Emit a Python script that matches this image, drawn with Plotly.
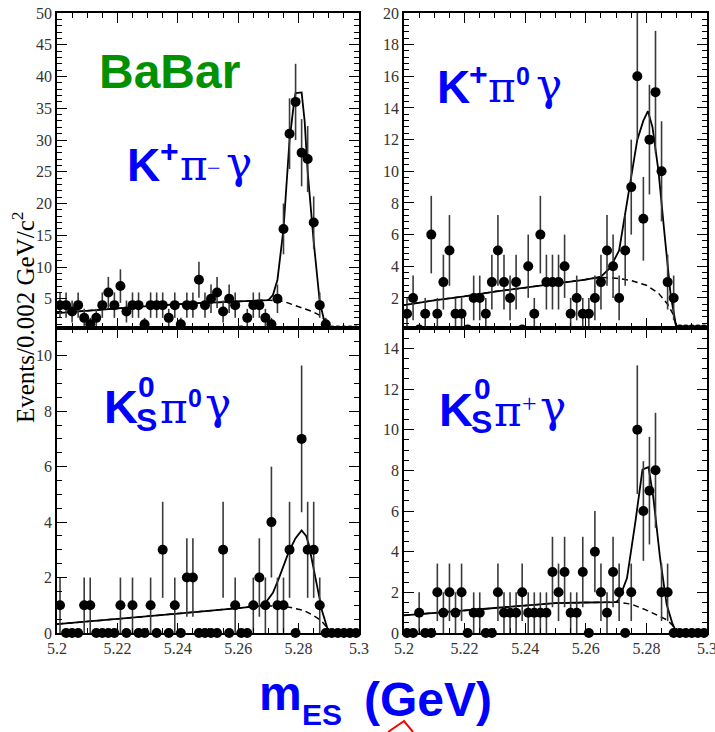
import numpy as np
import plotly.graph_objects as go

W, H = 715, 732

# ---------------- data ----------------
bin_lo, bin_w, n_bins = 5.200, 0.002, 50
mes_centers = [round(bin_lo + bin_w * (i + 0.5), 4) for i in range(n_bins)]

counts_kpim = [4, 4, 3, 4, 2, 1, 2, 4, 6, 4,
               7, 3, 4, 4, 1, 4, 4, 4, 2, 4,
               1, 4, 4, 8, 4, 5, 6, 3, 5, 4,
               0, 2, 4, 4, 2, 1, 5, 16, 31, 36,
               28, 27, 17, 4, 1, 0, 0, 0, 0, 0]
counts_kpi0 = [1, 2, 0, 1, 6, 1, 3, 5, 1, 1,
               0, 2, 2, 1, 3, 5, 3, 2, 3, 0,
               4, 1, 6, 3, 3, 3, 4, 1, 2, 1,
               1, 2, 3, 5, 4, 2, 5, 9, 16, 7,
               12, 15, 10, 3, 2, 0, 0, 0, 0, 0]
counts_kspi0 = [1, 0, 0, 0, 1, 1, 0, 0, 0, 0,
                1, 0, 1, 0, 0, 1, 0, 3, 0, 1,
                0, 2, 2, 0, 0, 0, 0, 3, 0, 1,
                0, 0, 1, 2, 1, 4, 1, 1, 3, 0,
                7, 3, 3, 1, 0, 0, 0, 0, 0, 0]
counts_kspip = [0, 0, 1, 0, 0, 2, 1, 2, 1, 2,
                0, 1, 1, 0, 0, 2, 1, 1, 1, 2,
                1, 1, 1, 1, 3, 2, 3, 1, 1, 3,
                0, 4, 2, 1, 3, 2, 0, 2, 10, 6,
                7, 8, 2, 2, 0, 0, 0, 0, 0, 0]

# fit curves (total) and background (dashed)
fit_kpim_x = [5.200, 5.210, 5.220, 5.230, 5.240, 5.250, 5.260, 5.270, 5.2715, 5.273, 5.275,
              5.277, 5.2785, 5.279, 5.281, 5.282, 5.283, 5.285, 5.287, 5.2885, 5.290]
fit_kpim_y = [2.75, 3.15, 3.5, 3.85, 4.15, 4.4, 4.65, 4.8, 5.6, 8.0, 16.0,
              30.0, 36.0, 37.4, 37.5, 33.0, 25.0, 14.0, 4.5, 1.5, 0.0]
bkg_kpim_x = [5.200, 5.210, 5.220, 5.230, 5.240, 5.250, 5.260, 5.270, 5.275, 5.280,
              5.2845, 5.2878, 5.2895, 5.290]
bkg_kpim_y = [2.75, 3.15, 3.5, 3.85, 4.15, 4.4, 4.65, 4.8, 4.6, 3.8, 3.0, 2.2, 1.0, 0.0]

fit_kpi0_x = [5.200, 5.210, 5.220, 5.230, 5.240, 5.250, 5.260, 5.265, 5.268, 5.271, 5.274,
              5.277, 5.279, 5.2805, 5.282, 5.284, 5.286, 5.288, 5.290]
fit_kpi0_y = [1.55, 1.85, 2.1, 2.4, 2.65, 2.9, 3.15, 3.35, 3.9, 5.0, 8.5,
              12.0, 13.2, 13.8, 12.8, 10.0, 6.0, 2.2, 0.0]
bkg_kpi0_x = [5.200, 5.210, 5.220, 5.230, 5.240, 5.250, 5.260, 5.265, 5.270, 5.275, 5.280,
              5.284, 5.287, 5.289, 5.290]
bkg_kpi0_y = [1.55, 1.85, 2.1, 2.4, 2.65, 2.9, 3.15, 3.3, 3.25, 3.1, 2.8, 2.3, 1.6, 0.9, 0.0]

fit_kspi0_x = [5.200, 5.220, 5.240, 5.260, 5.267, 5.269, 5.2715, 5.2735, 5.2755, 5.2768,
               5.279, 5.281, 5.2825, 5.2834, 5.2856, 5.2878, 5.290]
fit_kspi0_y = [0.32, 0.5, 0.7, 0.9, 0.97, 1.08, 1.45, 1.98, 2.6, 2.94,
               3.42, 3.7, 3.5, 3.18, 1.98, 0.78, 0.0]
bkg_kspi0_x = [5.200, 5.220, 5.240, 5.260, 5.267, 5.272, 5.277, 5.2815, 5.2845, 5.2875, 5.289, 5.290]
bkg_kspi0_y = [0.32, 0.5, 0.7, 0.9, 0.97, 0.97, 0.93, 0.82, 0.66, 0.45, 0.25, 0.0]

fit_kspip_x = [5.200, 5.220, 5.240, 5.250, 5.260, 5.270, 5.2709, 5.2736, 5.2764, 5.2787,
               5.2807, 5.2823, 5.2845, 5.2867, 5.2885, 5.290]
fit_kspip_y = [0.87, 1.1, 1.36, 1.47, 1.5, 1.52, 1.64, 2.7, 5.5, 8.04,
               8.16, 6.65, 3.7, 1.4, 0.5, 0.0]
bkg_kspip_x = [5.200, 5.220, 5.240, 5.250, 5.260, 5.270, 5.275, 5.2796, 5.284, 5.2867, 5.2885, 5.290]
bkg_kspip_y = [0.87, 1.1, 1.36, 1.47, 1.5, 1.52, 1.42, 1.15, 0.85, 0.65, 0.4, 0.0]

x_tick_vals = [5.2, 5.22, 5.24, 5.26, 5.28, 5.3]
x_tick_text = ["5.2", "5.22", "5.24", "5.26", "5.28", "5.3"]

# ---------------- figure ----------------
fig = go.Figure()

LX = [57 / W, 359 / W]
RX = [404 / W, 707 / W]
TY = [1 - 328 / H, 1 - 13 / H]
BY = [1 - 633 / H, 1 - 328 / H]

panels = [
    dict(c=counts_kpim, fx=fit_kpim_x, fy=fit_kpim_y, bx=bkg_kpim_x, by=bkg_kpim_y,
         xa="x", ya="y", clip=True),
    dict(c=counts_kpi0, fx=fit_kpi0_x, fy=fit_kpi0_y, bx=bkg_kpi0_x, by=bkg_kpi0_y,
         xa="x2", ya="y2", clip=True),
    dict(c=counts_kspi0, fx=fit_kspi0_x, fy=fit_kspi0_y, bx=bkg_kspi0_x, by=bkg_kspi0_y,
         xa="x3", ya="y3", clip=False),
    dict(c=counts_kspip, fx=fit_kspip_x, fy=fit_kspip_y, bx=bkg_kspip_x, by=bkg_kspip_y,
         xa="x4", ya="y4", clip=False),
]

for p in panels:
    cnt = np.array(p["c"], dtype=float)
    err = np.sqrt(cnt)
    fig.add_trace(go.Scatter(x=p["bx"], y=p["by"], mode="lines", xaxis=p["xa"], yaxis=p["ya"],
                             line=dict(color="black", width=1.5, dash="6px,4px"),
                             showlegend=False, hoverinfo="skip", cliponaxis=True))
    fig.add_trace(go.Scatter(x=p["fx"], y=p["fy"], mode="lines", xaxis=p["xa"], yaxis=p["ya"],
                             line=dict(color="black", width=1.8),
                             showlegend=False, hoverinfo="skip", cliponaxis=True))
    fig.add_trace(go.Scatter(x=mes_centers, y=cnt, mode="markers", xaxis=p["xa"], yaxis=p["ya"],
                             marker=dict(color="black", size=10, symbol="circle"),
                             error_y=dict(type="data", array=err, visible=True, color="#3a3a3a",
                                          thickness=1.6, width=0),
                             showlegend=False, cliponaxis=p["clip"]))

tickfont = dict(family="Liberation Serif", size=16, color="#333333")


def xax(domain, anchor, labels):
    return dict(domain=domain, anchor=anchor, range=[5.2, 5.3], automargin=False,
                tickmode="array", tickvals=x_tick_vals, ticktext=x_tick_text,
                showticklabels=labels, ticklabeloverflow="allow",
                ticks="inside", ticklen=10, tickwidth=1, tickcolor="black",
                minor=dict(ticks="inside", ticklen=5, dtick=0.005, tick0=5.2, tickcolor="black", tickwidth=1),
                showline=True, linecolor="black", linewidth=1.5, mirror="allticks",
                showgrid=False, zeroline=False, tickfont=tickfont)


def yax(domain, anchor, rng, dtick, minor):
    return dict(domain=domain, anchor=anchor, range=rng, tick0=0, dtick=dtick, automargin=False,
                ticklabeloverflow="allow",
                ticks="inside", ticklen=10, tickwidth=1, tickcolor="black",
                minor=dict(ticks="inside", ticklen=5, dtick=minor, tick0=0, tickcolor="black", tickwidth=1),
                showline=True, linecolor="black", linewidth=1.5, mirror="allticks",
                showgrid=False, zeroline=False, tickfont=tickfont)


fig.update_layout(
    width=W, height=H, margin=dict(l=0, r=0, t=0, b=0, autoexpand=False),
    paper_bgcolor="white", plot_bgcolor="white", showlegend=False,
    xaxis=xax(LX, "y", False), yaxis=yax(TY, "x", [0.4, 50], 5, 1),
    xaxis2=xax(RX, "y2", False), yaxis2=yax(TY, "x2", [0.1, 20], 2, 0.4),
    xaxis3=xax(LX, "y3", True), yaxis3=yax(BY, "x3", [0, 11], 2, 0.5),
    xaxis4=xax(RX, "y4", True), yaxis4=yax(BY, "x4", [0, 15], 2, 0.5),
)

SANS = "Liberation Sans"
GREEK = "DejaVu Serif"
SERIF = "Liberation Serif"
BLUE = "#0000ff"


def label(text, left, size, family, color, baseline=None, center=None, bold=False):
    if center is None:
        center = baseline - 0.39 * size
    if bold:
        text = "<b>" + text + "</b>"
    fig.add_annotation(x=(left - 3) / W, y=1 - center / H, xref="paper", yref="paper",
                       xanchor="left", yanchor="middle", text=text, showarrow=False,
                       borderpad=0,
                       font=dict(family=family, size=size, color=color))


# BaBar
label("BaBar", 101, 48, SANS, "#009000", baseline=90, bold=True)

# K+ pi- gamma
label("K", 129, 46, SANS, BLUE, baseline=183, bold=True)
label("+", 162, 32, SANS, BLUE, center=151, bold=True)
label("π", 182, 42, GREEK, BLUE, baseline=182)
label("−", 209, 24, SERIF, BLUE, center=168)
label("γ", 228, 44, GREEK, BLUE, baseline=180)

# K+ pi0 gamma
label("K", 439, 46, SANS, BLUE, baseline=105, bold=True)
label("+", 471, 32, SANS, BLUE, center=74, bold=True)
label("π", 490, 42, GREEK, BLUE, baseline=104)
label("0", 518, 25, SANS, BLUE, center=76, bold=True)
label("γ", 538, 44, GREEK, BLUE, baseline=102)

# KS pi0 gamma
label("K", 106, 47, SANS, BLUE, baseline=425, bold=True)
label("0", 140, 30, SANS, BLUE, center=386, bold=True)
label("S", 138, 32, SANS, BLUE, center=420, bold=True)
label("π", 162, 42, GREEK, BLUE, baseline=425)
label("0", 190, 25, SANS, BLUE, center=398, bold=True)
label("γ", 207, 44, GREEK, BLUE, baseline=421)

# KS pi+ gamma
label("K", 441, 47, SANS, BLUE, baseline=428, bold=True)
label("0", 476, 30, SANS, BLUE, center=388, bold=True)
label("S", 473, 32, SANS, BLUE, center=422, bold=True)
label("π", 496, 42, GREEK, BLUE, baseline=428)
label("+", 524, 26, SERIF, BLUE, center=404)
label("γ", 542, 44, GREEK, BLUE, baseline=424)

# x-axis title
label("m", 261, 48, SANS, BLUE, baseline=712, bold=True)
label("ES", 304, 30, SANS, BLUE, center=714, bold=True)
label("(GeV)", 366, 48, SANS, BLUE, baseline=718, bold=True)

# y-axis title
fig.add_annotation(x=23 / W, y=1 - 318 / H, xref="paper", yref="paper",
                   xanchor="center", yanchor="middle", textangle=-90,
                   text="Events/0.002 GeV/c<sup>2</sup>", showarrow=False,
                   font=dict(family="Liberation Serif", size=25, color="black"))

# small red caret under the title
fig.add_shape(type="path", xref="paper", yref="paper",
              path=f"M {388 / W},{1 - 732 / H} L {404 / W},{1 - 721 / H} L {413 / W},{1 - 732 / H}",
              line=dict(color="red", width=2))

fig.write_html("out.html")
